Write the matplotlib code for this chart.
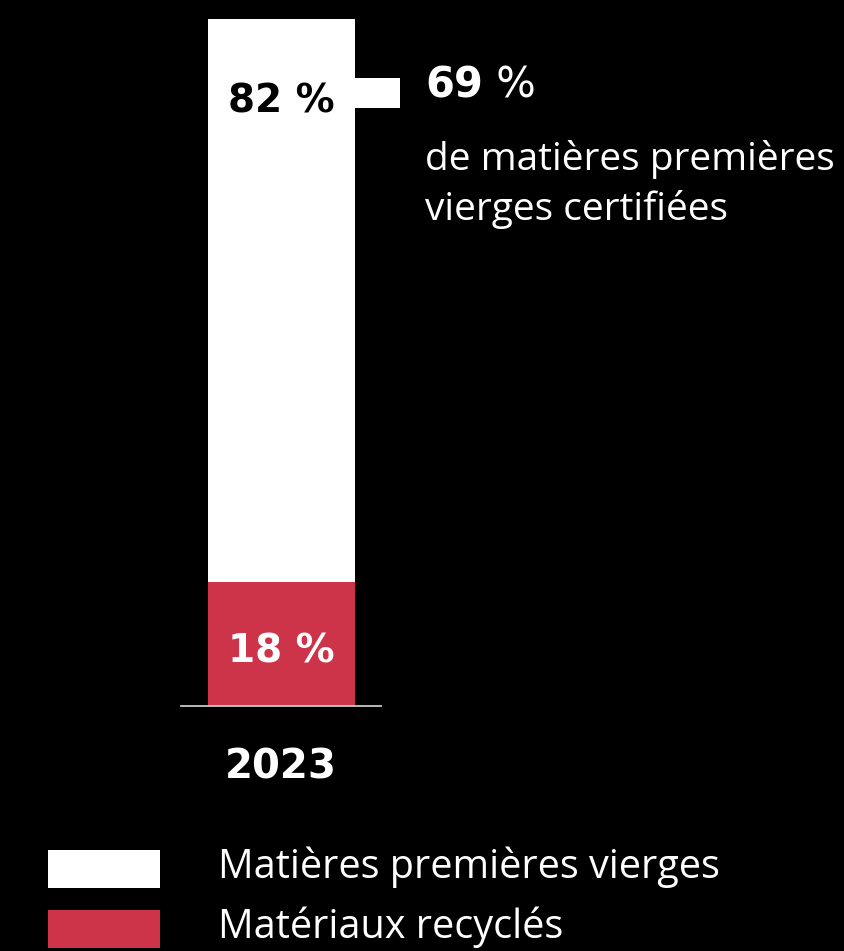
import matplotlib
matplotlib.use("Agg")
import matplotlib.pyplot as plt
from matplotlib.patches import Rectangle

# Data
year = "2023"
categories = ["Matières premières vierges", "Matériaux recyclés"]
virgin_share = 82        # % of raw materials that are virgin
recycled_share = 18      # % of raw materials that are recycled
certified_share = 69     # % of virgin raw materials that are certified
certified_text = ["de matières premières", "vierges certifiées"]

WHITE = "#ffffff"
RED = "#cd3449"
BG = "#000000"
FONT = "Open Sans"
NUMFONT = "DejaVu Sans"

W, H = 844, 951
fig = plt.figure(figsize=(W / 100, H / 100), dpi=100, facecolor=BG)

# Stacked bar axes
ax = fig.add_axes([181 / W, (H - 706) / H, 200 / W, 687 / H])
ax.set_facecolor(BG)
bw = 147 / 200
ax.bar(0, recycled_share, width=bw, color=RED, zorder=2)
ax.bar(0, virgin_share, bottom=recycled_share, width=bw, color=WHITE, zorder=2)
ax.set_xlim(-0.5, 0.5)
ax.set_ylim(0, recycled_share + virgin_share)
for s in ("top", "left", "right"):
    ax.spines[s].set_visible(False)
ax.spines["bottom"].set_color("#d9d9d9")
ax.spines["bottom"].set_linewidth(1.2)
ax.spines["bottom"].set_zorder(3)
ax.set_yticks([])
ax.set_xticks([0])
ax.set_xticklabels([year], fontsize=29, fontweight="bold", color=WHITE, family=NUMFONT)
ax.tick_params(axis="x", length=0, pad=30)

# Segment labels
ax.annotate(f"{virgin_share} %", xy=(0, recycled_share + virgin_share),
            xytext=(0, -67), textcoords="offset points", ha="center",
            va="baseline", fontsize=28, fontweight="bold", color=BG, family=NUMFONT)
ax.annotate(f"{recycled_share} %", xy=(0, 0), xytext=(0, 31),
            textcoords="offset points", ha="center", va="baseline",
            fontsize=28, fontweight="bold", color=WHITE, family=NUMFONT)

# Overlay in pixel coordinates for callout and legend
ov = fig.add_axes([0, 0, 1, 1], facecolor="none")
ov.set_xlim(0, W)
ov.set_ylim(H, 0)
ov.axis("off")

# Callout connector and text
ov.add_patch(Rectangle((355, 78), 45, 30, color=WHITE, lw=0))
num = ov.text(425, 97, f"{certified_share}", fontsize=30, fontweight="bold",
              color=WHITE, family=NUMFONT, va="baseline", ha="left")
ov.annotate(" %", xycoords=num, xy=(1, 0), va="bottom", ha="left",
            fontsize=30, color=WHITE, family=NUMFONT)
for i, line in enumerate(certified_text):
    ov.text(425, 170 + 50 * i, line, fontsize=28, color=WHITE, family=FONT,
            va="baseline", ha="left")

# Legend
for i, (lab, col) in enumerate(zip(categories, [WHITE, RED])):
    ov.add_patch(Rectangle((48, 850 + 60 * i), 112, 38, color=col, lw=0))
    ov.text(218, 878 + 60 * i, lab, fontsize=28.5, color=WHITE, family=FONT,
            va="baseline", ha="left")

fig.savefig("out.png", dpi=100, facecolor=BG)
